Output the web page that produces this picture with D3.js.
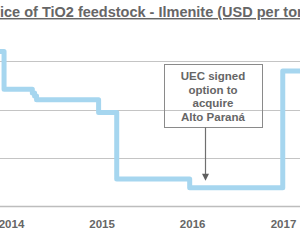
<!DOCTYPE html>
<html>
<head>
<meta charset="utf-8">
<script src="https://cdn.jsdelivr.net/npm/d3@7"></script>
<style>
  body { margin: 0; background: #fff; }
  svg { display: block; font-family: "Liberation Sans", Arial, sans-serif; }
</style>
</head>
<body>
<svg width="300" height="240"></svg>
<script>
// price of ilmenite, USD per tonne
var dates  = ["2013-08-01", "2013-12-04", "2014-03-28", "2014-04-06", "2014-04-14", "2014-12-20", "2015-03-03", "2015-12-22", "2016-12-31", "2017-06-01"];
var prices = [260, 221, 217, 214, 210, 197, 128, 119, 240, 240];
var yearTicks = ["2014", "2015", "2016", "2017"];
var gridValues = [100, 150, 200, 250];
var title = "Price of TiO2 feedstock - Ilmenite (USD per tonne)";
var noteLines = ["UEC signed", "option to", "acquire", "Alto Paraná"];
var noteDate = "2016-02-20";

var parse = d3.timeParse("%Y-%m-%d");
var data = dates.map(function (d, i) { return { date: parse(d), price: prices[i] }; });

var svg = d3.select("svg");

var x = d3.scaleTime()
    .domain([parse("2014-01-01"), parse("2017-01-01")])
    .range([11, 283]);
var y = d3.scaleLinear()
    .domain([100, 300])
    .range([206, 13]);

// gridlines
svg.append("g")
    .selectAll("line")
    .data(gridValues.slice(1))
    .enter().append("line")
    .attr("x1", 0).attr("x2", 300)
    .attr("y1", function (d) { return Math.round(y(d)) + 0.5; })
    .attr("y2", function (d) { return Math.round(y(d)) + 0.5; })
    .attr("stroke", "#c4c4c4")
    .attr("stroke-width", 1);

// x axis
var xAxis = svg.append("g")
    .attr("transform", "translate(0," + (Math.round(y(100)) + 0.5) + ")")
    .call(d3.axisBottom(x)
        .tickValues(yearTicks.map(function (t) { return parse(t + "-01-01"); }))
        .tickFormat(d3.timeFormat("%Y"))
        .tickSize(0)
        .tickPadding(13));
xAxis.select(".domain").attr("d", "M0,0H300").attr("stroke", "#bdbdbd").attr("stroke-width", 1.5);
xAxis.selectAll("text")
    .attr("fill", "#666")
    .attr("font-size", "11.5px")
    .attr("font-weight", "bold")
    .attr("font-family", "Liberation Sans, Arial, sans-serif");

// price line
var line = d3.line()
    .curve(d3.curveStepAfter)
    .x(function (d) { return x(d.date); })
    .y(function (d) { return y(d.price); });

svg.append("path")
    .datum(data)
    .attr("d", line)
    .attr("fill", "none")
    .attr("stroke", "#a6d6ef")
    .attr("stroke-width", 5)
    .attr("stroke-linejoin", "round");

// annotation box
var bx = 164, by = 64, bw = 98, bh = 63;
svg.append("rect")
    .attr("x", bx + 0.5).attr("y", by + 0.5)
    .attr("width", bw).attr("height", bh)
    .attr("fill", "none")
    .attr("stroke", "#8a8a8a")
    .attr("stroke-width", 1);

svg.append("g")
    .selectAll("text")
    .data(noteLines)
    .enter().append("text")
    .attr("x", bx + bw / 2)
    .attr("y", function (d, i) { return by + 16 + i * 13.5; })
    .attr("text-anchor", "middle")
    .attr("fill", "#666")
    .attr("font-size", "11.5px")
    .attr("font-weight", "bold")
    .text(function (d) { return d; });

// arrow
var ax = Math.round(x(parse(noteDate))) + 0.5;
var tipY = y(prices[7]) - 7;
svg.append("line")
    .attr("x1", ax).attr("x2", ax)
    .attr("y1", by + bh + 0.5).attr("y2", tipY - 5)
    .attr("stroke", "#6f6f6f")
    .attr("stroke-width", 1.2);
svg.append("path")
    .attr("d", "M" + (ax - 3.5) + "," + (tipY - 7) + "L" + (ax + 3.5) + "," + (tipY - 7) + "L" + ax + "," + tipY + "Z")
    .attr("fill", "#5f5f5f");

// title, clipped on both sides like the original
var t = svg.append("text")
    .attr("y", 17)
    .attr("fill", "#666")
    .attr("font-size", "14.5px")
    .attr("font-weight", "bold")
    .style("text-decoration", "underline")
    .text(title);
var tmp = svg.append("text")
    .attr("font-size", "14.5px")
    .attr("font-weight", "bold")
    .text("Pr");
var off = tmp.node().getComputedTextLength();
tmp.remove();
t.attr("x", -off);
</script>
</body>
</html>
